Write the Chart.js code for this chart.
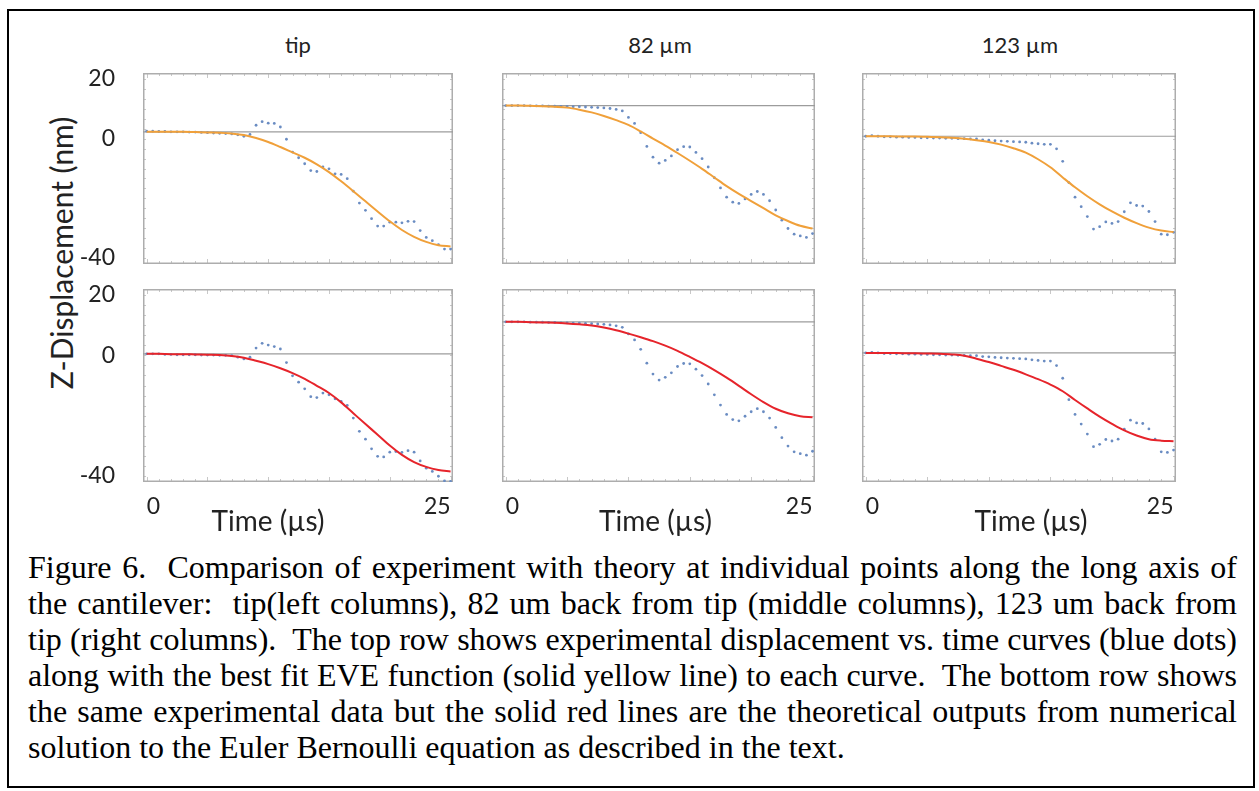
<!DOCTYPE html>
<html>
<head>
<meta charset="utf-8">
<title>Figure 6</title>
<script src="https://cdn.jsdelivr.net/npm/chart.js"></script>
<style>
  body { margin: 0; width: 1259px; height: 791px; background: #fff; position: relative; overflow: hidden; }
  .box { position: absolute; left: 7px; top: 9px; width: 1248px; height: 779px; border: 2px solid #000; box-sizing: border-box; }
  .cv { position: absolute; }
  .ptitle { position: absolute; width: 200px; margin-left: -100px; text-align: center; font: 22px Lato, "Open Sans", sans-serif; color: #222; line-height: 26px; }
  .ytitle { position: absolute; left: 61px; top: 253px; transform: translate(-50%, -50%) rotate(-90deg); white-space: nowrap; font: 30px Lato, "Open Sans", sans-serif; color: #222; }
  .caption { position: absolute; left: 28px; top: 549px; width: 1209px; font: 32px "Liberation Serif", "Times New Roman", serif; line-height: 36px; color: #000; }
  .caption div { text-align: justify; text-align-last: justify; white-space: nowrap; }
  .caption div.last { text-align-last: left; }
</style>
</head>
<body>
<div class="box"></div>

<div class="ptitle" style="left:298px; top:32px;">tip</div>
<div class="ptitle" style="left:660px; top:32px;">82 µm</div>
<div class="ptitle" style="left:1020px; top:32px;">123 µm</div>
<div class="ytitle">Z-Displacement (nm)</div>

<canvas class="cv" id="p1" width="383" height="223" style="left:70px; top:57px;"></canvas>
<canvas class="cv" id="p2" width="313" height="191" style="left:502px; top:73px;"></canvas>
<canvas class="cv" id="p3" width="314" height="191" style="left:862px; top:73px;"></canvas>
<canvas class="cv" id="p4" width="383" height="267" style="left:70px; top:273px;"></canvas>
<canvas class="cv" id="p5" width="313" height="251" style="left:502px; top:289px;"></canvas>
<canvas class="cv" id="p6" width="314" height="251" style="left:862px; top:289px;"></canvas>

<div class="caption">
  <div>Figure 6.&nbsp; Comparison of experiment with theory at individual points along the long axis of</div>
  <div>the cantilever:&nbsp; tip(left columns), 82 um back from tip (middle columns), 123 um back from</div>
  <div>tip (right columns).&nbsp; The top row shows experimental displacement vs. time curves (blue dots)</div>
  <div>along with the best fit EVE function (solid yellow line) to each curve.&nbsp; The bottom row shows</div>
  <div>the same experimental data but the solid red lines are the theoretical outputs from numerical</div>
  <div class="last">solution to the Euler Bernoulli equation as described in the text.</div>
</div>

<script>
// time samples (µs)
const timeDots = [0, 0.5, 1, 1.5, 2, 2.5, 3, 3.5, 4, 4.5, 5, 5.5, 6, 6.5, 7, 7.5, 8, 8.5, 9, 9.5,
  10, 10.5, 11, 11.5, 12, 12.5, 13, 13.5, 14, 14.5, 15, 15.5, 16, 16.5, 17, 17.5, 18, 18.5, 19, 19.5,
  20, 20.5, 21, 21.5, 22, 22.5, 23, 23.5, 24, 24.5, 25];
const timeCurve = [0, 1, 2, 3, 4, 5, 6, 7, 8, 9, 10, 11, 12, 13, 14, 15, 16, 17, 18, 19, 20, 21, 22, 23, 24, 25];

// experimental displacement (nm), blue dots
const dotsTipTop = [2.5, 2.5, 2.4, 2.4, 2.3, 2.3, 2.3, 2.2, 2.2, 2.1, 2.0, 1.9, 1.8, 1.7, 1.6, 1.3, 0.8, 1.4,
  4.5, 5.7, 5.2, 5.1, 3.9, -0.2, -4.5, -6.4, -8.4, -10.7, -11.0, -9.5, -10.1, -11.8, -12.0, -13.4,
  -17.6, -21.6, -24.0, -26.8, -29.3, -29.3, -28.0, -28.0, -28.2, -27.7, -27.8, -30.8, -33.1, -34.2,
  -35.5, -37.0, -37.0];
const dotsTipBottom = [0.5, 0.5, 0.5, 0.3, 0.3, 0.2, 0.2, 0.2, 0.2, 0.1, 0.1, 0.1, 0.0, 0.0, -0.1, -0.6, -1.2, -0.6,
  2.4, 4.0, 3.4, 2.9, 2.1, -2.4, -6.8, -8.9, -11.1, -13.7, -14.0, -12.5, -13.1, -14.4, -15.3, -16.6,
  -20.8, -25.2, -27.8, -31.0, -33.5, -33.7, -32.1, -31.9, -32.2, -31.6, -32.1, -35.0, -37.4, -38.5,
  -40.1, -41.6, -41.8];
const dots82 = [11.1, 11.1, 11.1, 11.1, 11.0, 11.0, 11.0, 10.9, 10.9, 10.8, 10.8, 10.7, 10.7, 10.6, 10.5, 10.4,
  10.3, 10.1, 9.8, 9.3, 7.1, 5.1, 2.0, -2.6, -6.2, -8.2, -7.3, -5.8, -3.7, -2.7, -2.8, -4.6, -6.7, -9.5,
  -13.1, -16.5, -19.6, -21.3, -21.7, -20.2, -18.7, -17.7, -18.7, -20.8, -23.9, -27.3, -30.1, -32.0,
  -32.6, -33.1, -31.8];
const dots123 = [0.8, 1.0, 0.8, 0.6, 0.6, 0.5, 0.5, 0.4, 0.4, 0.3, 0.3, 0.2, 0.2, 0.1, 0.1, 0.0, 0.0, -0.1,
  -0.1, -0.4, -0.5, -0.7, -0.8, -0.9, -1.0, -1.1, -1.2, -1.5, -1.7, -1.9, -1.9, -3.4, -7.6, -14.7,
  -19.6, -22.8, -26.1, -30.3, -29.5, -27.9, -28.4, -27.8, -24.5, -21.5, -22.4, -22.6, -24.4, -27.8,
  -32.0, -32.2, -31.4];

// best fit EVE function (top row, yellow)
const fitTip = [2.3, 2.3, 2.3, 2.3, 2.2, 2.1, 2.0, 1.7, 1.2, 0.2, -1.1, -2.8, -4.6, -6.4, -8.6, -11.2,
  -14.3, -17.6, -21.0, -24.4, -27.7, -30.6, -32.9, -34.6, -35.7, -36.1];
const fit82 = [11.1, 11.1, 11.0, 10.9, 10.7, 10.4, 9.7, 8.8, 7.6, 6.2, 4.6, 2.4, 0.0, -2.3, -4.8, -7.4,
  -10.1, -13.0, -15.9, -18.5, -20.9, -23.3, -25.7, -27.6, -29.2, -30.1];
const fit123 = [0.8, 0.8, 0.8, 0.7, 0.7, 0.6, 0.5, 0.3, 0.0, -0.5, -1.1, -2.0, -3.2, -4.7, -6.9, -9.6,
  -13.0, -16.3, -19.3, -22.0, -24.4, -26.5, -28.3, -29.8, -30.8, -31.3];

// Euler Bernoulli theory (bottom row, red)
const theoryTip = [0.5, 0.5, 0.4, 0.4, 0.3, 0.2, 0.1, -0.2, -0.8, -1.8, -2.9, -4.3, -5.9, -7.8, -10.1, -12.5,
  -15.6, -19.2, -22.8, -26.3, -29.9, -33.0, -35.4, -37.0, -38.0, -38.5];
const theory82 = [11.1, 11.1, 11.0, 10.9, 10.8, 10.6, 10.3, 9.9, 9.2, 8.3, 7.2, 6.0, 4.7, 3.2, 1.5, -0.5,
  -2.6, -4.9, -7.4, -10.1, -12.9, -15.5, -17.7, -19.2, -20.2, -20.5];
const theory123 = [0.8, 0.8, 0.8, 0.7, 0.7, 0.6, 0.5, 0.3, -0.1, -1.1, -2.2, -3.5, -4.8, -6.3, -7.9, -9.7,
  -11.9, -14.8, -17.6, -20.3, -22.7, -24.9, -26.6, -27.8, -28.3, -28.5];

// initial (zero-time) level, grey reference line
const baselineTop = [2.3, 11.1, 0.8];
const baselineBottom = [0.5, 11.1, 0.8];

const xTicks = [0, 25];
const yTicks = [20, 0, -40];
const xRange = [-0.3, 25.2];
const yRange = [-42, 22];

const fontFamily = 'Lato, "Open Sans", sans-serif';
const labelFont = { family: fontFamily, size: 23 };

// light grey Mathematica-style frame with inward tick marks
const framePlugin = {
  id: 'frame',
  beforeDatasetsDraw(chart) {
    const { ctx, chartArea: a, scales: { x, y } } = chart;
    ctx.save();
    ctx.strokeStyle = '#c8c8c8';
    ctx.lineWidth = 1;
    ctx.beginPath();
    for (let t = 0; t <= 25; t++) {
      const px = Math.round(x.getPixelForValue(t)) + 0.5;
      const len = t % 5 === 0 ? 5 : 3;
      ctx.moveTo(px, a.bottom); ctx.lineTo(px, a.bottom - len);
      ctx.moveTo(px, a.top); ctx.lineTo(px, a.top + len);
    }
    for (let v = -40; v <= 20; v += 10 / 3) {
      const py = Math.round(y.getPixelForValue(v)) + 0.5;
      ctx.moveTo(a.left, py); ctx.lineTo(a.left + 3, py);
      ctx.moveTo(a.right, py); ctx.lineTo(a.right - 3, py);
    }
    ctx.stroke();
    ctx.strokeStyle = '#adadad';
    ctx.lineWidth = 1.5;
    ctx.strokeRect(a.left + 0.75, a.top + 0.75, a.width - 1.5, a.height - 1.5);
    ctx.restore();
  }
};

// x-axis title, placed by hand under each column like the original figure
const timeTitlePlugin = {
  id: 'timeTitle',
  afterDraw(chart, args, opts) {
    if (!opts.display) return;
    const s = chart.scales.x;
    const { ctx } = chart;
    ctx.save();
    ctx.font = '28px ' + fontFamily;
    ctx.fillStyle = '#222';
    ctx.textAlign = 'center';
    ctx.textBaseline = 'middle';
    ctx.fillText('Time (µs)', (s.left + s.right) / 2 + opts.dx, s.bottom - 18);
    ctx.restore();
  }
};

function makePanel(id, dots, curve, color, base, showX, showY, pad, titleDx) {
  new Chart(document.getElementById(id), {
    type: 'scatter',
    data: {
      datasets: [
        {
          data: curve.map((v, i) => ({ x: timeCurve[i], y: v })),
          showLine: true, borderColor: color, borderWidth: 2, pointRadius: 0,
          cubicInterpolationMode: 'monotone', order: 1
        },
        {
          data: dots.map((v, i) => ({ x: timeDots[i], y: v })),
          showLine: false, pointRadius: 1.4, pointBorderWidth: 0,
          pointBackgroundColor: '#6a8cc2', order: 2
        },
        {
          data: [{ x: xRange[0], y: base }, { x: xRange[1], y: base }],
          showLine: true, borderColor: '#9c9c9c', borderWidth: 1.2, pointRadius: 0, order: 3
        }
      ]
    },
    options: {
      responsive: false,
      animation: false,
      layout: { padding: pad, autoPadding: false },
      plugins: {
        legend: { display: false },
        tooltip: { enabled: false },
        timeTitle: { display: showX, dx: titleDx }
      },
      scales: {
        x: {
          type: 'linear', min: xRange[0], max: xRange[1], display: showX,
          grid: { display: false, drawTicks: false }, border: { display: false },
          afterBuildTicks: s => { s.ticks = xTicks.map(v => ({ value: v })); },
          afterFit: s => { s.paddingLeft = 0; s.paddingRight = 0; if (showX) s.height = 58; },
          ticks: { align: 'inner', padding: 11, maxRotation: 0, autoSkip: false, font: labelFont, color: '#222' }
        },
        y: {
          type: 'linear', min: yRange[0], max: yRange[1], display: showY,
          grid: { display: false, drawTicks: false }, border: { display: false },
          afterBuildTicks: s => { s.ticks = yTicks.map(v => ({ value: v })); },
          afterFit: s => { s.paddingTop = 0; s.paddingBottom = 0; if (showY) s.width = 73; },
          ticks: { padding: 28, autoSkip: false, font: labelFont, color: '#222' }
        }
      }
    },
    plugins: [framePlugin, timeTitlePlugin]
  });
}

const orange = '#f0a03a';
const red = '#e6242b';
makePanel('p1', dotsTipTop, fitTip, orange, baselineTop[0], false, true, { top: 16, bottom: 16 }, 0);
makePanel('p2', dots82, fit82, orange, baselineTop[1], false, false, 0, 0);
makePanel('p3', dots123, fit123, orange, baselineTop[2], false, false, 0, 0);
makePanel('p4', dotsTipBottom, theoryTip, red, baselineBottom[0], true, true, { top: 16 }, -30);
makePanel('p5', dots82, theory82, red, baselineBottom[1], true, false, 0, -3);
makePanel('p6', dots123, theory123, red, baselineBottom[2], true, false, 0, 12);
</script>
</body>
</html>
